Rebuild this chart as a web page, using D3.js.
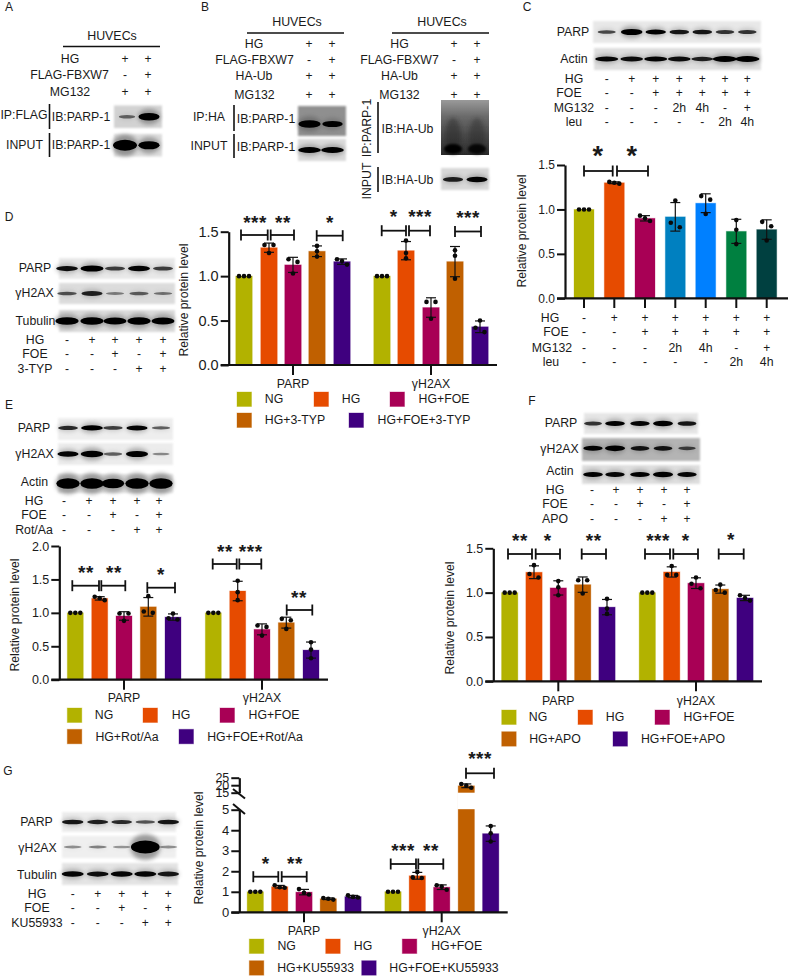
<!DOCTYPE html>
<html><head><meta charset="utf-8">
<style>html,body{margin:0;padding:0;background:#fff}svg{display:block}text{font-family:"Liberation Sans",Arial,sans-serif;fill:#1a1a1a}</style>
<script src="https://cdn.jsdelivr.net/npm/d3@7/dist/d3.min.js"></script></head>
<body><svg id="fig" width="790" height="977"></svg>
<script>
// ---------- colours / names ----------
const colNG="#b2b200",colHG="#e64b00",colFOE="#a80055",colT="#c06000",colP="#3f007f";
const colC=[colNG,colHG,colFOE,"#0080c0","#0080ff","#008040","#004040"];
const fiveColors=[colNG,colHG,colFOE,colT,colP];
const tenColors=[...fiveColors,...fiveColors];
const groups=["PARP","γH2AX"];

// ---------- panel C ----------
const cPoints=[[1,1,1],[1.31,1.3,1.29],[.93,.9,.87],[1.1,.85,.8],[1.15,1.11,.95],[.88,.77,.61],[.86,.81,.65]];
const cRowNames=["HG","FOE","MG132","leu"];
const cRows=[["-","+","+","+","+","+","+"],["-","-","+","+","+","+","+"],["-","-","-","2h","4h","-","+"],["-","-","-","-","-","2h","4h"]];
const cBlotPARP=[.4,1,.8,.65,.65,.5,.5],cBlotActin=[.75,.7,.75,.7,.6,.95,.95];
// ---------- panel D ----------
const dPoints=[[1,1,1],[1.35,1.26,1.35],[1.19,1.16,1.03],[1.34,1.28,1.22],[1.19,1.17,1.13],
 [1,1,1],[1.40,1.26,1.2],[.71,.71,.52],[1.29,1.23,.97],[.5,.42,.37]];
const dLegend=["NG","HG","HG+FOE","HG+3-TYP","HG+FOE+3-TYP"];
const dRowNames=["HG","FOE","3-TYP"];
const dBlots=[[.7,.9,.45,.75,.45],[.35,.6,.15,.3,.2],[.95,.95,.9,.95,.9]];
// ---------- panel E ----------
const ePoints=[[1,1,1],[1.24,1.22,1.19],[.99,.99,.88],[1.25,1.02,1.0],[.99,.92,.9],
 [1,1,1],[1.48,1.31,1.19],[.81,.79,.66],[.91,.89,.76],[.56,.45,.32]];
const eLegend=["NG","HG","HG+FOE","HG+Rot/Aa","HG+FOE+Rot/Aa"];
const eRowNames=["HG","FOE","Rot/Aa"];
const eBlots=[[.55,.85,.45,.75,.3],[.75,1,.3,.9,.12],[1.1,1.1,.95,1.1,1.1]];
// ---------- panel F ----------
const fPoints=[[1,1,1],[1.31,1.21,1.17],[1.13,1.06,.97],[1.14,1.14,.99],[.93,.82,.76],
 [1,1,1],[1.3,1.2,1.2],[1.17,1.1,1.05],[1.09,1.03,1.0],[.97,.94,.91]];
const fLegend=["NG","HG","HG+FOE","HG+APO","HG+FOE+APO"];
const fRowNames=["HG","FOE","APO"];
const fBlots=[[.5,.8,.75,.85,.65],[.75,.9,.65,.65,.4],[.8,.75,.8,.9,.75]];
// ---------- panel G ----------
const gPoints=[[1,1,1],[1.32,1.22,1.2],[1.13,.95,.87],[.7,.66,.62],[.83,.75,.72],
 [1,1,1],[1.97,1.7,1.67],[1.32,1.25,1.1],[20.8,19.7,18.3],[4.2,3.85,3.45]];
const gLegend=["NG","HG","HG+FOE","HG+KU55933","HG+FOE+KU55933"];
const gRowNames=["HG","FOE","KU55933"];
const gBlots=[[.65,.6,.55,.35,.65],[.1,.15,.07,2.2,.1],[.75,.7,.75,.75,.65]];
const gTicksLow=[0,1,2,3,4,5],gTicksHigh=[15,20,25];
// ---------- treatment rows ----------
const rowsFive=[["-","+","+","+","+"],["-","-","+","-","+"],["-","-","-","+","+"]];
// ---------- panels A and B ----------
const aRowNames=["HG","FLAG-FBXW7","MG132"];
const aRows=[["+","+"],["-","+"],["+","+"]];
const bRowNames=["HG","FLAG-FBXW7","HA-Ub","MG132"];
const bRows=[["+","+"],["-","+"],["+","+"],["+","+"]];
const aBlotIP=[.25,1.1],aBlotInput=[1.6,1.1],bBlotIP=[1.1,.8],bBlotInput=[.85,.85],bBlotInput2=[.6,.75];
const bSmearLanes=[1,.85];

const svg=d3.select("#fig");
const defs=svg.append("defs");
[["b0",.6],["b1",1.2],["b2",2.2]].forEach(([id,s])=>defs.append("filter").attr("id",id)
  .attr("x","-30%").attr("y","-100%").attr("width","160%").attr("height","300%")
  .append("feGaussianBlur").attr("stdDeviation",s));

function txt(x,y,s,o={}){return svg.append("text").attr("x",x).attr("y",y).attr("dy",".36em")
  .attr("text-anchor",o.anchor||"middle").attr("font-size",o.size||12.3).attr("font-weight",o.weight||null)
  .attr("transform",o.rot?`rotate(${o.rot} ${x} ${y})`:null).text(s);}
function line(x1,y1,x2,y2,w=1.6,c="#111"){svg.append("line").attr("x1",x1).attr("y1",y1).attr("x2",x2).attr("y2",y2).attr("stroke",c).attr("stroke-width",w);}

function blot(x,y,w,h,vals,lanes,o={}){
  const g=svg.append("g");
  const bg=o.bg||"#e6e6e6", dark=o.dark||"#050505", bh=o.bh||6.5;
  g.append("rect").attr("x",x).attr("y",y).attr("width",w).attr("height",h).attr("fill",bg).attr("filter","url(#b1)");
  const bw=o.bw||(lanes.length>1?(lanes[1]-lanes[0])*.92:w*.4);
  const cy=y+h*(o.cy||.5);
  const rx=d=>bw/2*Math.min(1.25,(.75+.28*d)), ry=d=>bh/2*(.35+.75*d);
  g.selectAll("ellipse.halo").data(vals).join("ellipse").attr("class","halo")
    .attr("cx",(d,i)=>lanes[i]).attr("cy",cy).attr("rx",d=>rx(d)*1.05).attr("ry",d=>ry(d)*2)
    .attr("fill","#555").attr("opacity",d=>Math.min(.55,.45*d)).attr("filter","url(#b2)");
  g.selectAll("ellipse.core").data(vals).join("ellipse").attr("class","core")
    .attr("cx",(d,i)=>lanes[i]).attr("cy",cy).attr("rx",rx).attr("ry",ry)
    .attr("fill",dark).attr("opacity",d=>Math.min(1,.3+.9*d)).attr("filter","url(#b0)");
}
function rowsText(names,rows,nameX,cols,ys,size=12.3){
  names.forEach((n,i)=>{
    const nx=Array.isArray(nameX)?nameX[i]:nameX;
    txt(nx,ys[i],n,{size});
    rows[i].forEach((v,j)=>txt(cols[j],ys[i],v,{size:v==="+"||v==="-"?12:12.3}));
  });
}
function sig(s){ // bracket + stars
  const [x1,x2,y,label,lx,ly,size]=s;
  line(x1,y,x2,y,1.8);line(x1,y-5.5,x1,y+5.5,1.8);line(x2,y-5.5,x2,y+5.5,1.8);
  svg.append("text").attr("x",lx).attr("y",ly+(size||19)*.33).attr("text-anchor","middle")
    .attr("font-size",size||19).attr("font-weight","bold").attr("letter-spacing",".5").attr("fill","#111").text(label);
}
function marks(x,yFn,pts,colors,bw){
  const g=svg.append("g");
  pts.forEach((p,i)=>{
    const cx=x(i),m=d3.mean(p),sd=d3.deviation(p);
    const y0=yFn(0),ym=yFn(m);
    g.append("rect").attr("x",cx-bw/2).attr("y",ym).attr("width",bw).attr("height",y0-ym).attr("fill",colors[i])
      .attr("stroke",colors[i]).attr("stroke-opacity",.3).attr("stroke-width",1);
    if(sd>0.001){
      const t=yFn(m+sd),b=yFn(m-sd);
      g.append("line").attr("x1",cx).attr("x2",cx).attr("y1",t).attr("y2",b).attr("stroke","#111").attr("stroke-width",1.2);
      [t,b].forEach(yy=>g.append("line").attr("x1",cx-5).attr("x2",cx+5).attr("y1",yy).attr("y2",yy).attr("stroke","#111").attr("stroke-width",1.2));
    }
    // swarm: points closer than a dot's width spread sideways
    const sorted=[...p].sort((a,b)=>b-a).map(yFn);
    const bins=[];sorted.forEach(v=>{const l=bins[bins.length-1];if(l&&v-l[l.length-1]<4.5)l.push(v);else bins.push([v]);});
    bins.forEach(b=>b.forEach((v,k)=>{
      const off=b.length===1?0:b.length===2?(k?4.5:-4.5):(k-1)*5;
      g.append("circle").attr("cx",cx+off).attr("cy",v).attr("r",2.3).attr("fill","#0a0a0a");
    }));
  });
}
function yAxis(x,y,ticks,fmt,size){
  const g=svg.append("g").attr("transform",`translate(${x},0)`)
   .call(d3.axisLeft(y).tickValues(ticks).tickFormat(fmt).tickSize(8).tickPadding(2).tickSizeOuter(0));
  g.select(".domain").attr("stroke","#111").attr("stroke-width",2.2);
  g.selectAll(".tick line").attr("stroke","#111").attr("stroke-width",2);
  g.selectAll("text").attr("font-size",size).attr("fill","#1a1a1a").style("font-family",'"Liberation Sans",Arial,sans-serif');
  return g;
}
function chart5(o){
  const y=d3.scaleLinear().domain(o.domain).range([o.y0,o.yTop]);
  const x=i=>o.bars[i];
  marks(x,y,o.points,tenColors,o.bw||16.3);
  line(o.ax-8,o.y0,o.axEnd,o.y0,2.2);
  yAxis(o.ax,y,o.ticks,d3.format(".1f"),o.tickSize||12.5);
  groups.forEach((n,i)=>{const gx=o.bars[2+i*5];line(gx,o.y0,gx,o.y0+10,2);txt(gx,o.groupY,n,{size:12.3});});
  txt(o.ylx,o.yly,"Relative protein level",{rot:-90,size:12.2});
  o.sigs.forEach(sig);
  legend(o.legend,o.lg);
}
function legend(names,l){
  names.forEach((n,i)=>{
    svg.append("rect").attr("x",l.sx[i]).attr("y",l.sy[i]).attr("width",14.5).attr("height",14.5).attr("fill",fiveColors[i])
      .attr("stroke",fiveColors[i]).attr("stroke-opacity",.35).attr("stroke-width",1);
    txt(l.tx[i],l.sy[i]+7,n,{size:12.3});
  });
}
// panel letters
[["A",9,7],["B",205,7],["C",527,7],["D",9,217],["E",9,405],["F",532,401],["G",8,771]].forEach(d=>txt(d[1],d[2],d[0],{size:12}));

// ---------- A ----------
txt(112,36,"HUVECs",{size:12.4});line(63,46.5,160,46.5,1.6);
rowsText(aRowNames,aRows,[70,69.5,70],[125,148],[59,75,92]);
txt(24,115,"IP:FLAG");line(49.5,104,49.5,129,1.6);txt(81,117,"IB:PARP-1");
blot(114,105.5,48,22.5,aBlotIP,[127,149],{bg:"#d2d2d2",bw:20,bh:6.5});
txt(24.5,145,"INPUT");line(49.5,133,49.5,157,1.6);txt(81,145,"IB:PARP-1");
blot(114,134,48,22.5,aBlotInput,[125,149],{bg:"#dcdcdc",bw:20,bh:7});
// ---------- B ----------
txt(297,22,"HUVECs",{size:12.4});line(247,33,344,33,1.6);
rowsText(bRowNames,bRows,[254,254.5,254,254.5],[309,332],[44,60,76,95]);
txt(209,117,"IP:HA");line(234,105,234,131,1.6);txt(266,119,"IB:PARP-1");
blot(298,106,48,30,bBlotIP,[309.5,332.5],{bg:"#8f8f8f",bw:21,bh:6.5,cy:.6});
txt(209,146,"INPUT");line(234,134,234,158,1.6);txt(266,147,"IB:PARP-1");
blot(298,139,48,22,bBlotInput,[309.5,332.5],{bg:"#dadada",bw:23,bh:6,cy:.5});
txt(442,22,"HUVECs",{size:12.4});line(392,33,489,33,1.6);
rowsText(bRowNames,bRows,[399.5,399.5,399.5,399.5],[454,477],[44,60,76,95]);
txt(367,128,"IP:PARP-1",{rot:-90});line(378,102,378,153,1.6);txt(407.5,129,"IB:HA-Ub");
// smear blot
(()=>{const g=svg.append("g");
  const lg=defs.append("linearGradient").attr("id","smear").attr("x1",0).attr("x2",0).attr("y1",0).attr("y2",1);
  [[0,"#9a9a9a"],[.3,"#6a6a6a"],[.65,"#4a4a4a"],[1,"#2a2a2a"]].forEach(s=>lg.append("stop").attr("offset",s[0]).attr("stop-color",s[1]));
  g.append("rect").attr("x",441).attr("y",100).attr("width",48).attr("height",55).attr("fill","url(#smear)").attr("filter","url(#b0)");
  bSmearLanes.forEach((d,i)=>{const cx=[453,477][i];
    g.append("ellipse").attr("cx",cx).attr("cy",136).attr("rx",8).attr("ry",18).attr("fill","#222").attr("opacity",.45*d).attr("filter","url(#b2)");
    g.append("ellipse").attr("cx",cx).attr("cy",149).attr("rx",9).attr("ry",5).attr("fill","#050505").attr("opacity",d).attr("filter","url(#b1)");
  });
})();
txt(367,181,"INPUT",{rot:-90});line(378,167,378,192,1.6);txt(407.5,180,"IB:HA-Ub");
blot(441,168,48,22,bBlotInput2,[453,477],{bg:"#d8d8d8",bw:22,bh:6,cy:.52});

// ---------- C ----------
const cBlotLanes=[606.7,631.7,655.7,679.3,702.3,725,747.3];
txt(573,32,"PARP");txt(574,59,"Actin");
blot(593,21,168,22,cBlotPARP,cBlotLanes,{bg:"#e8e8e8",bh:5.5,bw:21});
blot(594,48,167,22,cBlotActin,cBlotLanes,{bg:"#dedede",bh:5.5,bw:24});
rowsText(cRowNames,cRows,[574,569,574,574],cBlotLanes,[79,93,108,122],12.3);
const cX=[584,614.3,645,675.3,705.7,736.3,766.7];
const cY=d3.scaleLinear().domain([0,1.5]).range([298.3,165]);
marks(i=>cX[i],cY,cPoints,colC,20);
line(557,298.3,788,298.3,2.2);
yAxis(565,cY,[0,.5,1,1.5],d3.format(".1f"),12);
cX.forEach(x=>line(x,298.3,x,308,2));
rowsText(cRowNames,cRows,[550,556,552,551],cX,[318,332,348,362]);
txt(522,231,"Relative protein level",{rot:-90,size:12.2});
sig([584,612.7,171,"*",598,156,27]);sig([617,648,171,"*",632,156,27]);

// ---------- D ----------
const dLanes=[67,92,115,139,163];
txt(35,268,"PARP");txt(34.5,293,"γH2AX");txt(35.5,321,"Tubulin");
blot(59,258,116,21,dBlots[0],dLanes,{bg:"#e8e8e8",bh:6});
blot(59,283,116,21,dBlots[1],dLanes,{bg:"#dcdcdc",bh:6});
blot(59,310,116,22,dBlots[2],dLanes,{bg:"#dadada",bh:7});
rowsText(dRowNames,rowsFive,35,dLanes,[340,354,369]);
chart5({points:dPoints,bars:[244,269,293,317,342,382,406,431,455,480],bw:16.5,domain:[0,1.5],y0:365,yTop:231.7,ticks:[0,.5,1,1.5],tickSize:14.5,
 ax:228.7,axEnd:497,groupY:384,ylx:184,yly:300,legend:dLegend,
 lg:{sx:[237,314,390,237,349],sy:[392,392,392,413,413],tx:[274,351,444,295,424]},
 sigs:[[241,267.7,235,"***",255,223],[270.7,294,235,"**",283,223],[316.7,342.7,235.7,"*",330,223],[381.7,406,230.7,"*",393.7,217],[409,430,230.7,"***",420,217],[455,481,231.5,"***",468,218]]});

// ---------- E ----------
const eLanes=[68,92,113,137,161],eMarks=[64,89,113,137,159];
txt(34,428,"PARP");txt(34.5,454,"γH2AX");txt(34.5,482,"Actin");
blot(58,418,115,22,eBlots[0],eLanes,{bg:"#eeeeee",bh:5.5,cy:.45});
blot(58,443,115,22,eBlots[1],eLanes,{bg:"#ececec",bh:6,cy:.5});
blot(58,474,115,19,eBlots[2],eLanes,{bg:"#e0e0e0",bh:9});
rowsText(eRowNames,rowsFive,34,eMarks,[501,515,530]);
chart5({points:ePoints,bars:[75.3,99.7,124,148.3,173,213.3,237.7,262,286.3,311],bw:16,domain:[0,2],y0:679.7,yTop:546,ticks:[0,.5,1,1.5,2],
 ax:59.3,axEnd:328,groupY:698,ylx:15,yly:615,legend:eLegend,
 lg:{sx:[67.3,143,220,67.3,179],sy:[708,708,708,729.3,729.3],tx:[104,181,274,127,255]},
 sigs:[[72.3,99,585.7,"**",86,573],[101.3,125.3,585.7,"**",114,573],[147.3,175,587.7,"*",161,575],[212.7,236.7,564,"**",225,551.7],[239.3,261.3,564,"***",250.7,551.7],[286.7,312.3,610,"**",299,598]]});

// ---------- F ----------
const fLanes=[593,615,640,663,687];
txt(561,423,"PARP");txt(559.5,449,"γH2AX");txt(560,471,"Actin");
blot(584,413,114,21,fBlots[0],fLanes,{bg:"#e6e6e6",bh:5.5,cy:.5});
blot(582,438,118,23,fBlots[1],fLanes,{bg:"#b4b4b4",bh:5.5,cy:.45});
blot(582,465,118,19,fBlots[2],fLanes,{bg:"#dedede",bh:5.5});
rowsText(fRowNames,rowsFive,555,[592,616,640,664,687],[490,504,519]);
chart5({points:fPoints,bars:[509.7,534,558.3,582.7,607,647.3,671.7,696,720.3,745],bw:16.3,domain:[0,1.5],y0:681.3,yTop:548.3,ticks:[0,.5,1,1.5],
 ax:493.3,axEnd:762,groupY:700.7,ylx:450,yly:618,legend:fLegend,
 lg:{sx:[501.7,578,655,501.7,613],sy:[710,710,710,731.7,731.7],tx:[538,615,709,555,683]},
 sigs:[[508,532,554,"**",520,541],[535.7,560,554,"*",547.7,541],[581.7,606,554,"**",593.7,541],[645,670,554,"***",658,541],[673.3,698,554,"*",685.7,541],[718.7,743.7,554,"*",731,540]]});

// ---------- G ----------
const gLanes=[72.7,97.7,121.7,145.3,168.3];
txt(36.5,822,"PARP");txt(37.5,848,"γH2AX");txt(37,875,"Tubulin");
blot(62,812,114,20,gBlots[0],gLanes,{bg:"#ececec",bh:5.5});
blot(62,836,114,22,gBlots[1],gLanes,{bg:"#efefef",bh:6.5});
blot(62,863,116,22,gBlots[2],gLanes,{bg:"#e4e4e4",bh:6});
rowsText(gRowNames,rowsFive,37,gLanes,[894,908,923]);
(()=>{
 const o={bars:[255.3,279.7,304,328.3,353,393,417.3,441.7,466.3,490.7],ax:239.3,y0:912.3,axEnd:507.7};
 const low=d3.scaleLinear().domain([0,5]).range([912.3,809.7]);
 const high=d3.scaleLinear().domain([15,25]).range([792.7,777.7]);
 const y=v=>v<=5?low(v):v<15?low(5):high(v);
 marks(i=>o.bars[i],y,gPoints,tenColors,16.3);
 // white band across the tall bar's axis break
 svg.append("rect").attr("x",o.bars[8]-9).attr("y",high(15)).attr("width",18).attr("height",low(5)-high(15)-.5).attr("fill","#fff");
 line(o.ax-8,o.y0,o.axEnd,o.y0,2.2);
 yAxis(o.ax,low,gTicksLow,d3.format("d"),13);
 yAxis(o.ax,high,gTicksHigh,d3.format("d"),12.5);
 line(233,789,245,798.5,2);line(233,804,245,814,2);
 groups.forEach((n,i)=>{const gx=o.bars[2+i*5];line(gx,o.y0,gx,o.y0+10,2);txt(gx,931,n);});
 txt(199,848,"Relative protein level",{rot:-90,size:12.2});
 [[253.3,278.3,876.7,"*",265.7,864],[281.7,306.7,876.7,"**",295,864],[390.7,416,864,"***",403,850.5],[418.3,443.3,864,"**",431,850.5],[466,494,773.3,"***",480,759]].forEach(sig);
 legend(gLegend,{sx:[249.3,325.7,402.3,249.3,361.7],sy:[939,939,939,960.7,960.7],tx:[286.7,363,456.7,315.7,444]});
})();
</script></body></html>
